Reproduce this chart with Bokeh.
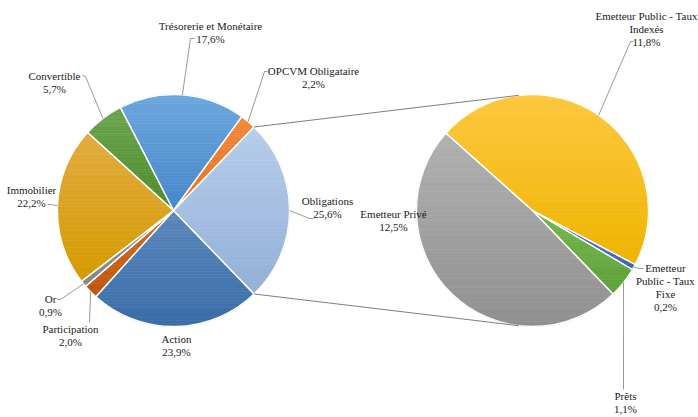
import math
from bokeh.plotting import figure
from bokeh.models import Range1d, ColumnDataSource
from bokeh.core.properties import value
from bokeh.embed import file_html
from bokeh.resources import INLINE

# ---------------- data ----------------
main_labels = ["Obligations", "OPCVM Obligataire", "Trésorerie et Monétaire", "Convertible",
               "Immobilier", "Or", "Participation", "Action"]
main_values = [25.6, 2.2, 17.6, 5.7, 22.2, 0.9, 2.0, 23.9]
main_texts = ["25,6%", "2,2%", "17,6%", "5,7%", "22,2%", "0,9%", "2,0%", "23,9%"]

sub_labels = ["Prêts", "Emetteur Public - Taux Fixe", "Emetteur Public - Taux Indexés", "Emetteur Privé"]
sub_values = [1.1, 0.2, 11.8, 12.5]
sub_texts = ["1,1%", "0,2%", "11,8%", "12,5%"]

# ---------------- style / layout ----------------
W, H = 698, 417
# (top colour, bottom colour) of each slice's vertical gradient
main_colors = [("#B7CDEB", "#93AFD6"), ("#F4893C", "#E5701F"), ("#6CA7DE", "#4687C9"),
               ("#6CA650", "#4C8A2B"), ("#E1AC40", "#D59A00"), ("#999999", "#858585"),
               ("#D26D28", "#BF560C"), ("#5C89BC", "#396CA8")]
sub_colors = [("#76B94E", "#5E9E38"), ("#4A7AD0", "#3865B8"), ("#FDC83E", "#EFB400"),
              ("#B1B1B1", "#909090")]
FONT = "Liberation Serif"
FS = "11px"
LINE_H = 13.2
N_BANDS = 40

C1 = (173, 210)   # pixel coords (y down)
C2 = (532, 210)
R = 116


def Y(py):
    return H - py


p = figure(width=W, height=H, output_backend="svg", toolbar_location=None,
           x_range=Range1d(0, W), y_range=Range1d(0, H), min_border=0)
p.axis.visible = False
p.grid.visible = False
p.outline_line_color = None
p.background_fill_color = "white"
p.border_fill_color = "white"


def wedges(vals, start, total):
    starts, ends = [], []
    a = start
    for v in vals:
        span = 2 * math.pi * v / total
        starts.append(a)
        ends.append(a + span)
        a += span
    return starts, ends


def hex2rgb(h):
    h = h.lstrip("#")
    return [int(h[i:i + 2], 16) for i in (0, 2, 4)]


def mix(c1, c2, t):
    a, b = hex2rgb(c1), hex2rgb(c2)
    return "#%02x%02x%02x" % tuple(int(round(a[i] + (b[i] - a[i]) * t)) for i in range(3))


def clip(poly, y0, keep_above):
    out = []
    n = len(poly)
    for i in range(n):
        P, Q = poly[i], poly[(i + 1) % n]
        pin = (P[1] >= y0) if keep_above else (P[1] <= y0)
        qin = (Q[1] >= y0) if keep_above else (Q[1] <= y0)
        if pin:
            out.append(P)
        if pin != qin:
            t = (y0 - P[1]) / (Q[1] - P[1])
            out.append((P[0] + t * (Q[0] - P[0]), y0))
    return out


def gradient_pie(center, starts, ends, colors):
    cx, cy = center[0], Y(center[1])
    xs_all, ys_all, cols = [], [], []
    for s, e, (ctop, cbot) in zip(starts, ends, colors):
        n = max(3, int(math.degrees(e - s) / 2))
        poly = [(cx, cy)] + [(cx + R * math.cos(s + (e - s) * k / n),
                              cy + R * math.sin(s + (e - s) * k / n)) for k in range(n + 1)]
        ymin = min(q[1] for q in poly)
        ymax = max(q[1] for q in poly)
        h = (ymax - ymin) / N_BANDS
        for b in range(N_BANDS):
            hi = ymax - b * h
            lo = hi - h
            part = clip(clip(poly, lo, True), hi, False)
            if len(part) < 3:
                continue
            xs_all.append([q[0] for q in part])
            ys_all.append([q[1] for q in part])
            cols.append(mix(ctop, cbot, (b + 0.5) / N_BANDS))
    src = ColumnDataSource(dict(xs=xs_all, ys=ys_all, c=cols))
    p.patches(xs="xs", ys="ys", fill_color="c", line_color="c", line_width=0.6, source=src)
    src_o = ColumnDataSource(dict(x=[cx] * len(starts), y=[cy] * len(starts), s=starts, e=ends))
    p.wedge(x="x", y="y", radius=R, start_angle="s", end_angle="e", fill_color=None,
            line_color="white", line_width=1.3, source=src_o)


tot_main = sum(main_values)
start_main = -math.pi * main_values[0] / tot_main
m_start, m_end = wedges(main_values, start_main, tot_main)

tot_sub = sum(sub_values)
s_start, s_end = wedges(sub_values, start_main, tot_sub)

gradient_pie(C1, m_start, m_end, main_colors)
gradient_pie(C2, s_start, s_end, sub_colors)

# connector lines from the split slice edges to the tangent points of the second pie
cx1, cy1 = C1[0], Y(C1[1])
cx2, cy2 = C2[0], Y(C2[1])
for ang, sign in ((m_end[0], -1), (m_start[0], 1)):
    px, py = cx1 + R * math.cos(ang), cy1 + R * math.sin(ang)
    dx, dy = px - cx2, py - cy2
    d = math.hypot(dx, dy)
    th = math.atan2(dy, dx)
    al = math.acos(R / d)
    t = th + sign * al
    tx_, ty_ = cx2 + R * math.cos(t), cy2 + R * math.sin(t)
    p.line([px, tx_], [py, ty_], line_color="#7F7F7F", line_width=1)


def mid_point(center, s, e, r=R):
    m = (s + e) / 2
    return center[0] + r * math.cos(m), Y(center[1]) + r * math.sin(m)


# label layout: (center x, first line y, lines, leader anchor points in px or None)
main_layout = {
    "Obligations": (327, 200, ["Obligations"], [(313, 218), (309, 218)]),
    "OPCVM Obligataire": (313, 70, ["OPCVM Obligataire"], [(267, 71), (264, 71)]),
    "Trésorerie et Monétaire": (210, 25, ["Trésorerie et Monétaire"], [(194, 38), (190, 38)]),
    "Convertible": (54, 75, ["Convertible"], [(82, 75), (85, 76)]),
    "Immobilier": (31, 189, ["Immobilier"], [(47, 204), (51, 204)]),
    "Or": (50, 298, ["Or"], [(57, 299), (60, 299)]),
    "Participation": (70, 328, ["Participation"], [(89, 322)]),
    "Action": (176, 338, ["Action"], None),
}
sub_layout = {
    "Prêts": (625, 395, ["Prêts"], [(623, 389)]),
    "Emetteur Public - Taux Fixe": (665, 267, ["Emetteur", "Public - Taux", "Fixe"], [(643, 268), (639, 268)]),
    "Emetteur Public - Taux Indexés": (646, 15, ["Emetteur Public - Taux", "Indexés"], [(633, 41), (630, 41)]),
    "Emetteur Privé": (393, 213, ["Emetteur Privé"], None),
}

tx, ty, tt = [], [], []


def add_labels(names, texts, starts, ends, center, layout):
    for name, pct, s, e in zip(names, texts, starts, ends):
        x0, y0, lines, anchors = layout[name]
        allines = lines + [pct]
        for i, ln in enumerate(allines):
            tx.append(x0)
            ty.append(Y(y0 + i * LINE_H))
            tt.append(ln)
        if anchors:
            ex, ey = mid_point(center, s, e)
            xs = [a[0] for a in anchors] + [ex]
            ys = [Y(a[1]) for a in anchors] + [ey]
            p.line(xs, ys, line_color="#7F7F7F", line_width=0.8)


add_labels(main_labels, main_texts, m_start, m_end, C1, main_layout)
add_labels(sub_labels, sub_texts, s_start, s_end, C2, sub_layout)

p.text(x=tx, y=ty, text=tt, text_font=value(FONT), text_font_size=FS,
       text_color="#1A1A1A", text_align="center", text_baseline="middle")

open("out.html", "w").write(file_html(p, INLINE))
